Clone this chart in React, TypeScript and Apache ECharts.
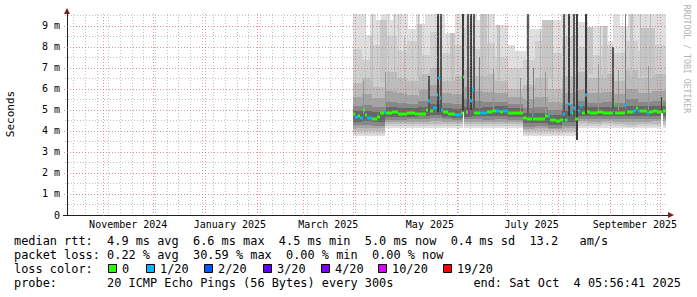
import React, { useEffect, useRef } from "react";
import * as echarts from "echarts";

const DAY = 86400000;
const AXIS_START = Date.UTC(2024, 9, 10, 6, 0, 0);
const AXIS_END = AXIS_START + 360 * DAY;
const DATA_BASE = Date.UTC(2025, 2, 30); // day 0 of the data arrays
const Y_MAX = 9.57;

const Y_TICKS = [0, 1, 2, 3, 4, 5, 6, 7, 8, 9];
const Y_MINOR = [0.5, 1.5, 2.5, 3.5, 4.5, 5.5, 6.5, 7.5, 8.5, 9.5];
const MONTH_LABELS = ["November 2024", "January 2025", "March 2025", "May 2025", "July 2025", "September 2025"];
const MONTH_LABEL_YM = [[2024, 10], [2025, 0], [2025, 2], [2025, 4], [2025, 6], [2025, 8]];
const MONTH_LINE_YM = [[2024, 10], [2024, 11], [2025, 0], [2025, 1], [2025, 2], [2025, 3], [2025, 4], [2025, 5], [2025, 6], [2025, 7], [2025, 8], [2025, 9]];
const FIRST_MONDAY = Date.UTC(2024, 9, 14);

const LOSS_KEYS = [0, 1, 2, 3, 4, 10, 19];
const LOSS_LABELS = ["0", "1/20", "2/20", "3/20", "4/20", "10/20", "19/20"];
const LOSS_COLORS = ["#26ff00", "#00b8ff", "#0059ff", "#5e00ff", "#7e00ff", "#dd00ff", "#ff0000"];

// Outer smoke band: [dayStart, dayEnd, min ms, max ms]
const SMOKE_OUTER = [
  [0.8, 8.6, 3.76, 9.57], [8.6, 11.0, 3.76, 8.57], [11.0, 14.6, 3.76, 9.57], [14.6, 17.6, 3.76, 9.3],
  [17.6, 20.0, 3.76, 9.57], [20.0, 23.0, 4.12, 9.57], [23.0, 24.8, 4.12, 9.3], [24.8, 33.8, 4.12, 9.57],
  [33.8, 38.6, 4.12, 8.85], [38.6, 41.0, 4.12, 9.57], [41.0, 44.0, 4.12, 9.1], [44.0, 56.0, 4.12, 9.57],
  [56.0, 62.0, 4.12, 8.67], [62.0, 75.2, 4.12, 9.57], [75.2, 77.6, 4.12, 9.3], [77.6, 86.0, 4.12, 9.57],
  [86.0, 93.8, 4.12, 9.05], [93.8, 98.0, 4.12, 8.1], [98.0, 102.8, 4.12, 7.8], [102.8, 104.6, 3.76, 7.8],
  [104.6, 107.0, 3.76, 9.57], [107.0, 117.8, 3.76, 8.85], [117.8, 125.6, 3.76, 9.3], [125.6, 134.0, 3.76, 9.57],
  [134.0, 135.0, 3.76, 9.2], [135.0, 141.8, 4.14, 9.2], [141.8, 146.0, 4.14, 8.95], [146.0, 153.8, 4.14, 9.0],
  [153.8, 156.8, 4.14, 8.3], [156.8, 161.0, 4.14, 9.57], [161.0, 165.8, 4.14, 9.0], [165.8, 188.8, 4.14, 9.57],
];

// Inner smoke bands, per chunk
const CHUNK_START = [0.8, 6, 12, 20, 27, 33, 40, 47, 54, 60, 66, 72, 78, 86, 94, 103, 110, 118, 126, 135, 142, 150, 157, 164, 172, 180];
const CHUNK_END = 188.8;
const S1_LO = [3.86, 3.88, 3.86, 4.24, 4.22, 4.25, 4.24, 4.22, 4.25, 4.23, 4.24, 4.26, 4.24, 4.23, 4.25, 3.86, 3.88, 3.86, 3.9, 4.26, 4.25, 4.27, 4.22, 4.2, 4.22, 4.25];
const S1_HI = [7.9, 7.4, 8.1, 8.5, 7.8, 8.3, 7.6, 8.7, 7.7, 8.1, 8.9, 7.9, 8.2, 7.5, 7.0, 7.4, 8.3, 7.7, 8.5, 8.0, 7.6, 8.1, 7.7, 8.3, 7.8, 8.1];
const S2_LO = [4.0, 4.02, 4.0, 4.33, 4.32, 4.35, 4.33, 4.32, 4.34, 4.33, 4.34, 4.35, 4.33, 4.32, 4.34, 3.98, 4.0, 3.98, 4.02, 4.36, 4.35, 4.37, 4.32, 4.3, 4.32, 4.35];
const S2_HI = [6.3, 6.5, 6.1, 6.8, 6.5, 6.4, 6.7, 7.0, 6.4, 6.6, 6.9, 6.6, 6.7, 6.4, 6.0, 6.2, 6.5, 6.0, 6.6, 6.8, 6.5, 6.7, 6.4, 6.9, 6.5, 6.7];
const S3_LO = [4.14, 4.16, 4.12, 4.43, 4.42, 4.44, 4.45, 4.46, 4.44, 4.43, 4.44, 4.45, 4.43, 4.44, 4.43, 4.1, 4.12, 4.08, 4.14, 4.46, 4.45, 4.47, 4.44, 4.42, 4.44, 4.46];
const S3_HI = [5.6, 5.75, 5.55, 5.9, 5.8, 5.7, 5.95, 6.2, 5.8, 5.75, 6.1, 5.9, 5.85, 5.8, 5.6, 5.5, 5.6, 5.4, 5.8, 5.95, 5.8, 5.85, 5.75, 6.0, 5.8, 5.9];
const S4_LO = [4.29, 4.3, 4.26, 4.54, 4.52, 4.55, 4.56, 4.6, 4.55, 4.54, 4.55, 4.56, 4.54, 4.57, 4.54, 4.2, 4.22, 4.16, 4.26, 4.58, 4.56, 4.58, 4.56, 4.55, 4.56, 4.58];
const S4_HI = [5.2, 5.25, 5.15, 5.4, 5.35, 5.3, 5.45, 5.65, 5.35, 5.3, 5.5, 5.45, 5.4, 5.4, 5.3, 5.1, 5.15, 5.0, 5.3, 5.45, 5.35, 5.4, 5.35, 5.5, 5.4, 5.45];
const S5_LO = [4.45, 4.46, 4.42, 4.68, 4.66, 4.68, 4.7, 4.78, 4.68, 4.64, 4.68, 4.7, 4.7, 4.72, 4.67, 4.38, 4.38, 4.3, 4.42, 4.72, 4.7, 4.72, 4.7, 4.7, 4.72, 4.72];
const S5_HI = [4.95, 4.95, 4.9, 5.13, 5.1, 5.08, 5.15, 5.3, 5.11, 5.05, 5.15, 5.11, 5.15, 5.18, 5.11, 4.85, 4.85, 4.75, 4.95, 5.2, 5.13, 5.13, 5.13, 5.2, 5.17, 5.17];

// Single-column streaks: [dayStart, dayEnd, lo ms, hi ms, shade level]
const STREAKS = [
  [11.0, 12.0, 6.4, 8.5, 5], [17.0, 21.2, 6.3, 9.3, 5], [27.8, 28.6, 6.5, 9.57, 5], [39.2, 42.2, 6.6, 9.1, 5],
  [59.0, 62.0, 6.4, 8.67, 5], [77.0, 81.2, 6.6, 9.57, 5], [87.2, 89.0, 6.4, 9.05, 5], [114.0, 120.8, 6.5, 9.3, 5],
  [140.0, 144.8, 6.7, 8.95, 5], [150.8, 153.2, 6.5, 9.0, 5], [167.0, 168.8, 6.6, 9.57, 5], [173.0, 182.0, 6.6, 8.9, 5],
  [20.0, 20.6, 5.0, 6.8, 6], [84.8, 85.4, 5.0, 7.0, 6], [101.0, 101.6, 4.8, 6.5, 6], [116.0, 116.6, 4.7, 6.8, 6],
  [147.8, 148.4, 5.0, 7.2, 6], [159.8, 160.4, 5.0, 6.9, 6], [177.8, 178.4, 5.0, 7.1, 6], [7.0, 7.6, 4.8, 6.4, 6],
  [12.2, 12.8, 5.5, 9.57, 4], [25.4, 26.0, 5.8, 9.57, 4], [31.4, 32.0, 5.7, 8.5, 4], [39.8, 40.4, 5.6, 9.57, 4],
  [60.2, 60.8, 5.7, 8.6, 4], [81.8, 82.4, 5.8, 9.57, 4], [88.4, 89.0, 5.8, 9.0, 4], [113.0, 113.6, 5.5, 8.8, 4],
  [120.2, 120.8, 5.4, 9.3, 4], [149.0, 149.6, 5.8, 9.0, 4], [173.0, 173.6, 5.9, 9.57, 4], [179.0, 179.6, 5.8, 9.57, 4],
  [45.8, 47.0, 4.9, 6.6, 2], [51.2, 52.4, 4.9, 9.57, 1], [53.0, 54.2, 4.9, 9.57, 2], [66.2, 67.4, 4.95, 9.57, 1],
  [66.8, 67.6, 4.05, 4.9, 0], [69.2, 70.4, 4.95, 9.57, 2], [71.0, 72.2, 5.0, 9.57, 1], [72.8, 74.0, 5.0, 9.57, 2],
  [76.4, 77.0, 5.0, 7.5, 3], [105.2, 106.4, 4.6, 9.57, 2], [108.8, 109.4, 4.6, 7.0, 3], [126.8, 128.0, 4.6, 9.57, 2],
  [129.8, 131.0, 4.7, 9.57, 1], [132.8, 134.0, 4.6, 9.57, 2], [134.6, 135.8, 3.55, 9.57, 1], [140.0, 141.2, 4.8, 9.57, 1],
  [156.2, 157.4, 4.85, 8.0, 2], [164.0, 164.6, 4.85, 9.57, 3], [185.6, 186.2, 4.9, 5.6, 1], [185.6, 186.6, 4.1, 4.85, 0],
];

// Median rtt: [dayStart, ms (null = no data), loss out of 20]; each runs to the next start
const MEDIAN = [
  [0.8, 4.81, 0], [2.0, 4.67, 1], [3.8, 4.71, 0], [5.0, 4.62, 1], [6.8, 5.0, 0], [8.0, 4.76, 0], [9.2, 4.6, 1],
  [12.2, 4.57, 0], [15.2, 4.67, 0], [17.0, 4.86, 0], [19.4, 4.9, 1], [20.6, 4.86, 0], [24.0, 4.9, 0], [28.0, 4.83, 0],
  [33.2, 4.84, 0], [38.0, 4.81, 0], [44.6, 5.0, 0], [45.8, 5.43, 1], [47.0, 4.95, 0], [48.8, 5.1, 1], [51.2, 5.71, 1],
  [51.8, 6.52, 1], [53.0, 5.57, 1], [53.6, 5.0, 1], [54.8, 4.9, 0], [57.8, 4.81, 0], [62.0, 4.76, 1], [65.6, 4.86, 0],
  [66.8, 6.57, 0], [67.4, null, 0], [68.6, 4.9, 0], [69.8, 4.9, 10], [71.0, 5.43, 1], [72.2, 5.95, 1], [73.4, 4.86, 0],
  [77.0, 4.86, 1], [81.2, 4.9, 0], [84.0, 4.93, 0], [86.6, 4.95, 1], [89.0, 4.9, 0], [90.8, 4.95, 1], [93.8, 4.86, 0],
  [98.0, 4.84, 0], [102.8, 4.62, 0], [105.2, 4.57, 0], [108.2, 4.76, 1], [108.8, 4.57, 0], [116.0, 4.71, 0],
  [117.8, 4.69, 1], [119.0, 4.5, 0], [122.5, 4.48, 0], [125.0, 4.52, 0], [126.8, 4.81, 1], [128.0, 4.52, 0],
  [129.2, 4.52, 1], [129.8, 5.29, 1], [131.0, 4.9, 1], [132.2, 4.86, 0], [132.8, 5.1, 1], [134.0, 4.57, 0],
  [135.8, 4.95, 1], [137.0, 5.19, 1], [138.2, 4.86, 0], [140.0, 5.71, 1], [141.2, 4.9, 0], [143.0, 4.86, 0],
  [147.0, 4.9, 0], [151.0, 4.86, 0], [154.0, 4.88, 0], [156.8, 4.95, 1], [157.4, 5.29, 0], [158.0, 4.86, 0],
  [164.0, 5.24, 1], [165.2, 4.9, 0], [168.8, 4.95, 1], [170.6, 5.1, 0], [171.8, 4.95, 1], [173.0, 4.95, 0],
  [177.2, 4.86, 1], [178.4, 4.9, 0], [181.0, 4.95, 0], [183.5, 4.9, 0], [186.2, 5.38, 0], [186.8, 4.95, 0],
];
const MEDIAN_END = 188.6;

const LEGEND_ROWS = [
  "median rtt:  4.9 ms avg  6.6 ms max  4.5 ms min  5.0 ms now  0.4 ms sd  13.2   am/s",
  "packet loss: 0.22 % avg  30.59 % max  0.00 % min  0.00 % now",
  "loss color:",
  "probe:       20 ICMP Echo Pings (56 Bytes) every 300s",
];
const END_TEXT = "end: Sat Oct  4 05:56:41 2025";

const BAND_COLORS = ["#dfdfdf", "#cfcfcf", "#bcbcbc", "#a4a4a4", "#888888", "#676767"];
const STREAK_COLORS = ["#ffffff", "#3c3c3c", "#565656", "#7a7a7a", "#bcbcbc", "#c6c6c6", "#959595"];
const MINOR_GRID = "rgba(143,143,143,0.55)";
const MAJOR_GRID = "rgba(222,79,79,0.62)";
const MONO = '"DejaVu Sans Mono", monospace';

const toT = (d: number) => DATA_BASE + d * DAY;

function chunkBand(lo: number[], hi: number[]) {
  return CHUNK_START.map((s, i) => [toT(s), toT(i + 1 < CHUNK_START.length ? CHUNK_START[i + 1] : CHUNK_END), lo[i], hi[i]]);
}

function rectRender(colorOf: (api: any) => string) {
  return (params: any, api: any) => {
    const a = api.coord([api.value(0), api.value(3)]);
    const b = api.coord([api.value(1), api.value(2)]);
    const x0 = Math.round(a[0]);
    const x1 = Math.round(b[0]);
    const y0 = Math.round(a[1]);
    const y1 = Math.round(b[1]);
    return {
      type: "rect",
      shape: { x: x0, y: y0, width: Math.max(1, x1 - x0), height: Math.max(1, y1 - y0) },
      style: { fill: colorOf(api) },
    };
  };
}

function bandSeries(data: any[], color: string) {
  return {
    type: "custom",
    silent: true,
    clip: true,
    encode: { x: [0, 1], y: [2, 3] },
    data,
    renderItem: rectRender(() => color),
  };
}

function buildOption(): any {
  const bands = [
    SMOKE_OUTER.map((s) => [toT(s[0]), toT(s[1]), s[2], s[3]]),
    chunkBand(S1_LO, S1_HI),
    chunkBand(S2_LO, S2_HI),
    chunkBand(S3_LO, S3_HI),
    chunkBand(S4_LO, S4_HI),
    chunkBand(S5_LO, S5_HI),
  ];
  const series: any[] = bands.map((d, i) => bandSeries(d, BAND_COLORS[i]));

  series.push({
    type: "custom",
    silent: true,
    clip: true,
    encode: { x: [0, 1], y: [2, 3] },
    data: STREAKS.map((s) => [toT(s[0]), toT(s[1]), s[2], s[3], s[4]]),
    renderItem: rectRender((api) => STREAK_COLORS[api.value(4)]),
  });

  // grid lines
  const weekly: number[][] = [];
  for (let t = FIRST_MONDAY; t < AXIS_END; t += 7 * DAY) weekly.push([t, 0]);
  const monthly = MONTH_LINE_YM.map(([y, m]) => [Date.UTC(y, m, 1), 1]);
  series.push({
    type: "custom",
    silent: true,
    clip: false,
    encode: { x: 0, y: 1 },
    data: [...weekly, ...monthly],
    renderItem: (params: any, api: any) => {
      const cs = params.coordSys;
      const x = Math.round(api.coord([api.value(0), 0])[0]) + 0.5;
      const major = api.value(1) === 1;
      return {
        type: "line",
        shape: { x1: x, y1: cs.y, x2: x, y2: cs.y + cs.height + (major ? 3 : 0) },
        style: { stroke: major ? MAJOR_GRID : MINOR_GRID, lineWidth: 1, lineDash: [1, 2] },
      };
    },
  });
  series.push({
    type: "custom",
    silent: true,
    clip: false,
    encode: { x: 0, y: 1 },
    data: [...Y_MINOR.map((v) => [AXIS_START, v, 0]), ...Y_TICKS.filter((v) => v > 0).map((v) => [AXIS_START, v, 1])],
    renderItem: (params: any, api: any) => {
      const cs = params.coordSys;
      const y = Math.round(api.coord([api.value(0), api.value(1)])[1]) + 0.5;
      const major = api.value(2) === 1;
      return {
        type: "line",
        shape: { x1: cs.x - (major ? 3 : 2), y1: y, x2: cs.x + cs.width, y2: y },
        style: { stroke: major ? MAJOR_GRID : MINOR_GRID, lineWidth: 1, lineDash: [1, 2] },
      };
    },
  });

  // median rtt coloured by loss
  const med: any[] = [];
  MEDIAN.forEach((m, i) => {
    if (m[1] === null) return;
    const end = i + 1 < MEDIAN.length ? (MEDIAN[i + 1][0] as number) : MEDIAN_END;
    med.push([toT(m[0] as number), toT(end), m[1], m[2]]);
  });
  series.push({
    type: "custom",
    silent: true,
    clip: true,
    encode: { x: [0, 1], y: 2 },
    data: med,
    renderItem: (params: any, api: any) => {
      const a = api.coord([api.value(0), api.value(2)]);
      const b = api.coord([api.value(1), api.value(2)]);
      const x0 = Math.round(a[0]);
      const x1 = Math.round(b[0]);
      const idx = LOSS_KEYS.indexOf(api.value(3));
      return {
        type: "rect",
        shape: { x: x0, y: Math.round(a[1]) - 1.5, width: Math.max(1, x1 - x0), height: 3 },
        style: { fill: LOSS_COLORS[idx < 0 ? 0 : idx] },
      };
    },
  });

  // month labels
  series.push({
    type: "custom",
    silent: true,
    clip: false,
    encode: { x: 0, y: 1 },
    data: MONTH_LABEL_YM.map(([y, m], i) => [Date.UTC(y, m, 16), 0, i]),
    renderItem: (params: any, api: any) => {
      const cs = params.coordSys;
      const x = api.coord([api.value(0), 0])[0];
      return {
        type: "text",
        x,
        y: cs.y + cs.height + 9,
        style: {
          text: MONTH_LABELS[api.value(2)],
          font: `10px ${MONO}`,
          fill: "#000",
          align: "center",
          verticalAlign: "middle",
          textAlign: "center",
          textVerticalAlign: "middle",
        },
      };
    },
  });

  const txt = (text: string, x: number, y: number, extra: any = {}) => ({
    type: "text",
    x,
    y,
    silent: true,
    style: {
      text,
      font: `11.9px ${MONO}`,
      fill: "#000",
      align: "left",
      verticalAlign: "middle",
      textAlign: "left",
      textVerticalAlign: "middle",
      ...extra,
    },
  });

  const BOX_X = [108, 146, 204, 263, 321, 378, 443];
  const graphics: any[] = [
    txt(LEGEND_ROWS[0], 14, 241),
    txt(LEGEND_ROWS[1], 14, 255),
    txt(LEGEND_ROWS[2], 14, 269),
    txt(LEGEND_ROWS[3], 14, 283),
    txt(END_TEXT, 681, 283, { align: "right", textAlign: "right" }),
    {
      type: "text",
      x: 10,
      y: 114,
      rotation: Math.PI / 2,
      silent: true,
      style: { text: "Seconds", font: `11px ${MONO}`, fill: "#000", align: "center", verticalAlign: "middle", textAlign: "center", textVerticalAlign: "middle" },
    },
    {
      type: "text",
      x: 687,
      y: 59,
      rotation: -Math.PI / 2,
      silent: true,
      style: { text: "RRDTOOL / TOBI OETIKER", font: `8.2px ${MONO}`, fill: "#b4b4b4", align: "center", verticalAlign: "middle", textAlign: "center", textVerticalAlign: "middle" },
    },
    { type: "polygon", silent: true, shape: { points: [[64, 14], [70, 14], [67, 8]] }, style: { fill: "#801f1f" } },
    { type: "polygon", silent: true, shape: { points: [[668, 212], [668, 218], [674, 215]] }, style: { fill: "#801f1f" } },
    { type: "line", silent: true, shape: { x1: 63, y1: 215.5, x2: 668, y2: 215.5 }, style: { stroke: "#1f1f1f", lineWidth: 1 } },
  ];
  LOSS_LABELS.forEach((lab, i) => {
    graphics.push({
      type: "rect",
      silent: true,
      shape: { x: BOX_X[i] + 0.5, y: 264.5, width: 8, height: 8 },
      style: { fill: LOSS_COLORS[i], stroke: "#000", lineWidth: 1 },
    });
    graphics.push(txt(lab, BOX_X[i] + 14, 269));
  });

  return {
    animation: false,
    backgroundColor: "#ffffff",
    grid: { left: 67, top: 14, width: 600, height: 201, containLabel: false },
    xAxis: {
      type: "time",
      min: AXIS_START,
      max: AXIS_END,
      axisLine: { show: true, lineStyle: { color: "#1f1f1f", width: 1 } },
      axisTick: { show: false },
      axisLabel: { show: false },
      splitLine: { show: false },
    },
    yAxis: {
      type: "value",
      min: 0,
      max: Y_MAX,
      interval: 1,
      axisLine: { show: true, lineStyle: { color: "#1f1f1f", width: 1 } },
      axisTick: { show: false },
      splitLine: { show: false },
      axisLabel: {
        show: true,
        margin: 7,
        color: "#000",
        fontFamily: "DejaVu Sans Mono",
        fontSize: 10,
        formatter: (v: number) => (Y_TICKS.indexOf(v) < 0 ? "" : v === 0 ? "0" : `${v} m`),
      },
    },
    series,
    graphic: { elements: graphics },
  };
}

export default function App() {
  const ref = useRef<HTMLDivElement>(null);
  useEffect(() => {
    const chart = echarts.init(ref.current as HTMLDivElement, null, { renderer: "svg" });
    chart.setOption(buildOption());
    return () => chart.dispose();
  }, []);
  return <div ref={ref} style={{ position: "fixed", left: 0, top: 0, width: 697, height: 297 }} />;
}
